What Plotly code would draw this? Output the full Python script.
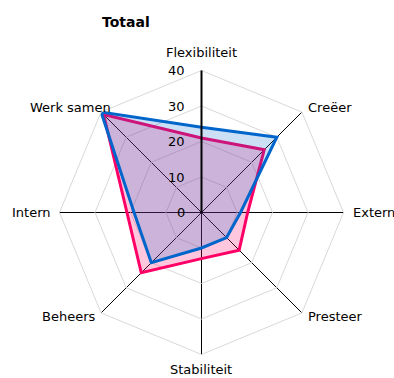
import math
import plotly.graph_objects as go

categories = ["Flexibiliteit", "Creëer", "Extern", "Presteer",
              "Stabiliteit", "Beheers", "Intern", "Werk samen"]
serie_roze = [21, 25, 13, 15, 13, 24, 21, 39]
serie_blauw = [24, 30, 11, 10, 10, 20, 19, 40]
radial_ticks = [0, 10, 20, 30, 40]

theta = categories + categories[:1]

fig = go.Figure()
# pink series first, blue on top of it
fig.add_trace(go.Scatterpolar(
    r=serie_roze + serie_roze[:1], theta=theta, mode="lines",
    line=dict(color="#FF0066", width=3),
    fill="toself", fillcolor="rgba(255,0,102,0.22)",
    name="Roze",
))
fig.add_trace(go.Scatterpolar(
    r=serie_blauw + serie_blauw[:1], theta=theta, mode="lines",
    line=dict(color="#0066CC", width=3),
    fill="toself", fillcolor="rgba(0,102,204,0.2)",
    name="Blauw",
))

W, H = 394, 378
cx, cy, R = 201.5, 212.5, 142

# category labels just outside the spoke tips: (xanchor, dx, dy) in pixels
label_place = [
    ("center", 0, -18),
    ("left", 4, -5),
    ("left", 7, 0),
    ("left", 4, 4),
    ("center", 0, 15),
    ("right", -4, 4),
    ("right", -7, 0),
    ("right", 12, -5),
]
annotations = []
for i, (name, (anchor, dx, dy)) in enumerate(zip(categories, label_place)):
    a = math.radians(90 - 45 * i)
    px = cx + R * math.cos(a) + dx
    py = cy - R * math.sin(a) + dy
    annotations.append(dict(
        text=name, x=px / W, y=1 - py / H, xref="paper", yref="paper",
        xanchor=anchor, yanchor="middle", showarrow=False,
        font=dict(family="DejaVu Sans", size=13, color="black"),
    ))

# radial tick labels to the left of the vertical spoke
for v in radial_ticks:
    py = cy - R * v / 40
    annotations.append(dict(
        text=str(v), x=(cx - 15) / W, y=1 - py / H, xref="paper", yref="paper",
        xanchor="right", yanchor="middle", showarrow=False,
        font=dict(family="DejaVu Sans", size=13, color="black"),
    ))

fig.update_layout(
    width=W, height=H,
    margin=dict(l=0, r=0, t=0, b=0),
    paper_bgcolor="white",
    showlegend=False,
    font=dict(family="DejaVu Sans", size=13, color="black"),
    title=dict(text="<b>Totaal</b>", x=102 / W, xanchor="left",
               y=1 - 22 / H, yanchor="middle",
               font=dict(family="DejaVu Sans", size=14, color="black")),
    annotations=annotations,
    polar=dict(
        domain=dict(x=[(cx - R) / W, (cx + R) / W],
                    y=[(H - cy - R) / H, (H - cy + R) / H]),
        bgcolor="white",
        gridshape="linear",
        radialaxis=dict(
            range=[0, 40], tickvals=radial_ticks, angle=90,
            showline=True, linecolor="black", linewidth=2,
            gridcolor="#d9d9d9", gridwidth=1,
            ticks="", showticklabels=False,
        ),
        angularaxis=dict(
            direction="clockwise", rotation=90,
            gridcolor="black", gridwidth=1.2,
            showline=True, linecolor="#d9d9d9", linewidth=1,
            ticks="", showticklabels=False,
        ),
    ),
)

fig.write_html("out.html")
